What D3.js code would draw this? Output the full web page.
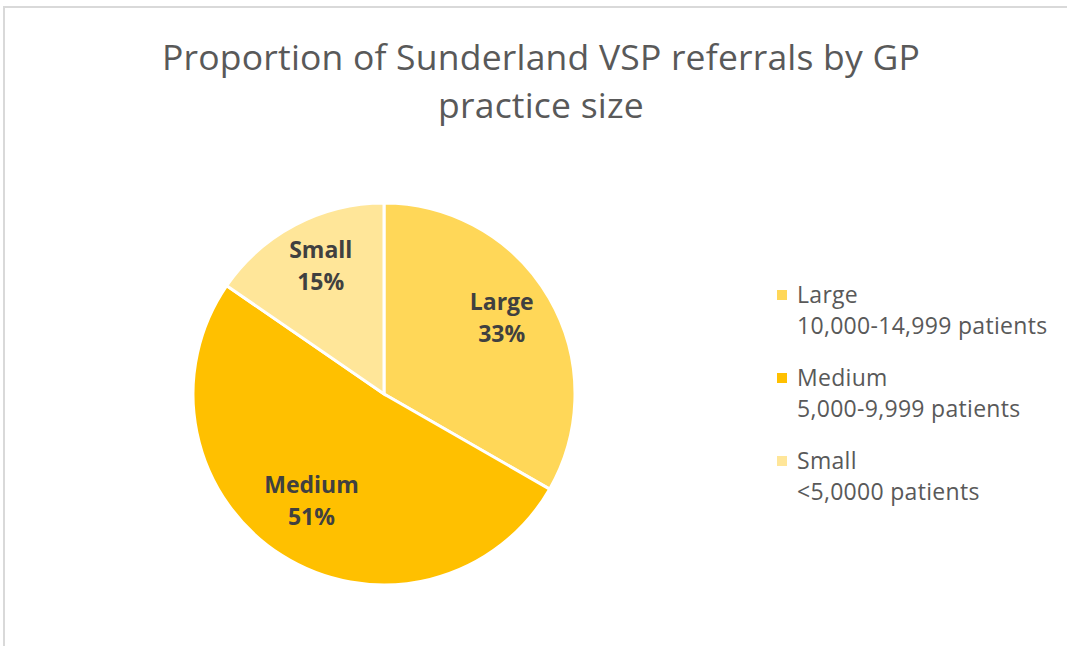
<!DOCTYPE html>
<html>
  <head>
    <script src="https://cdn.jsdelivr.net/npm/d3@7"></script>
    <style>
      body { margin: 0; background: #fff; }
      text { font-family: "Open Sans", "Noto Sans", sans-serif; }
    </style>
  </head>
  <body>
    <svg id="chart" width="1067" height="646"></svg>

    <script>
      // data
      var categories = ["Large", "Medium", "Small"];
      var shares = [33.3, 51.3, 15.4];
      var pctLabels = ["33%", "51%", "15%"];
      var legendNotes = ["10,000-14,999 patients", "5,000-9,999 patients", "<5,0000 patients"];
      var colours = ["#ffd758", "#ffc000", "#ffe699"];

      var svg = d3.select("#chart");

      // frame, only top and left edges show in the crop
      svg.append("path")
        .attr("d", "M4,646 V7 H1067")
        .attr("fill", "none")
        .attr("stroke", "#d9d9d9")
        .attr("stroke-width", 2);

      // title
      var title = svg.append("text")
        .attr("x", 541).attr("y", 70)
        .attr("text-anchor", "middle")
        .attr("fill", "#595959")
        .style("font-size", "35.5px")
        .style("letter-spacing", "0.2px");
      title.append("tspan").attr("x", 541).attr("dy", 0).text("Proportion of Sunderland VSP referrals by GP");
      title.append("tspan").attr("x", 541).attr("dy", 48).text("practice size");

      var cx = 384, cy = 394, r = 191;
      var pie = d3.pie().sort(null)(shares);
      var arc = d3.arc().innerRadius(0).outerRadius(r);
      var labelArc = d3.arc().innerRadius(136).outerRadius(136);

      var g = svg.append("g").attr("transform", "translate(" + cx + "," + cy + ")");
      g.selectAll("path.slice")
        .data(pie)
        .join("path")
        .attr("class", "slice")
        .attr("d", arc)
        .attr("fill", function(d, i) { return colours[i]; })
        .attr("stroke", "#fff")
        .attr("stroke-width", 3);

      var labs = g.selectAll("text.lab")
        .data(pie)
        .join("text")
        .attr("class", "lab")
        .attr("transform", function(d) {
          var c = labelArc.centroid(d);
          return "translate(" + c[0] + "," + c[1] + ")";
        })
        .attr("text-anchor", "middle")
        .attr("fill", "#404040")
        .style("font-size", "23px")
        .style("font-weight", "bold");
      labs.append("tspan").attr("x", 0).attr("y", -16).text(function(d, i) { return categories[i]; });
      labs.append("tspan").attr("x", 0).attr("y", 16).text(function(d, i) { return pctLabels[i]; });

      // legend
      var y = d3.scaleBand().domain(categories).range([283, 532]);
      var leg = svg.selectAll("g.leg")
        .data(categories)
        .join("g")
        .attr("class", "leg")
        .attr("transform", function(d) { return "translate(777," + y(d) + ")"; });
      leg.append("rect")
        .attr("x", 0).attr("y", 7)
        .attr("width", 10).attr("height", 10)
        .attr("fill", function(d, i) { return colours[i]; });
      leg.append("text")
        .attr("x", 20).attr("y", 20)
        .attr("fill", "#595959")
        .style("font-size", "23px")
        .style("letter-spacing", "0.3px")
        .text(function(d) { return d; });
      leg.append("text")
        .attr("x", 20).attr("y", 51)
        .attr("fill", "#595959")
        .style("font-size", "23px")
        .style("letter-spacing", "0.3px")
        .text(function(d, i) { return legendNotes[i]; });
    </script>
  </body>
</html>
